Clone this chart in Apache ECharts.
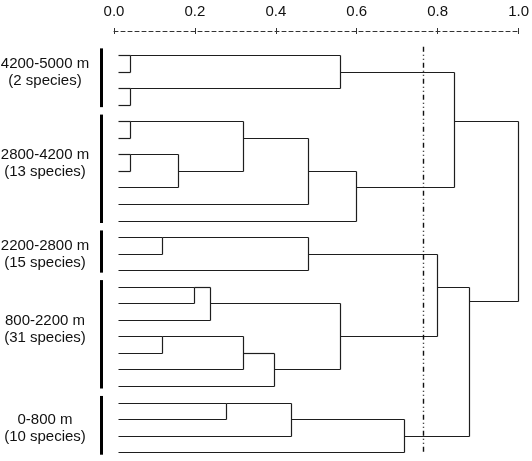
<!DOCTYPE html>
<html>
<head>
<meta charset="utf-8">
<script src="https://cdn.jsdelivr.net/npm/echarts@6/dist/echarts.min.js"></script>
<style>
html,body{margin:0;padding:0;background:#fff;}
#chart{width:532px;height:461px;}
</style>
</head>
<body>
<div id="chart"></div>
<script>
// ---- data ----
const xTicks = [0.0, 0.2, 0.4, 0.6, 0.8, 1.0];
const leafCount = 25;          // leaves, listed top to bottom (rows 0..24)
const leafStart = 0.01;        // rescaled distance where leaves begin
const cutOff = 0.763;          // dash-dot threshold line

// merges: [id, childA, childB, rescaled distance, row where the joined cluster continues]
const mergesGroup1 = [
  ['a1', 'L0', 'L1', 0.040, 0],
  ['a2', 'L2', 'L3', 0.040, 2],
  ['a3', 'a1', 'a2', 0.558, 1]
];
const mergesGroup2 = [
  ['b1', 'L4', 'L5', 0.040, 4],
  ['b2', 'L6', 'L7', 0.040, 6],
  ['b3', 'b2', 'L8', 0.158, 7],
  ['b4', 'b1', 'b3', 0.319, 5],
  ['b5', 'b4', 'L9', 0.479, 7],
  ['b6', 'b5', 'L10', 0.598, 8]
];
const mergesGroup3 = [
  ['c1', 'L11', 'L12', 0.118, 11],
  ['c2', 'c1', 'L13', 0.479, 12]
];
const mergesGroup4 = [
  ['d1', 'L14', 'L15', 0.198, 14],
  ['d2', 'd1', 'L16', 0.237, 15],
  ['d3', 'L17', 'L18', 0.118, 17],
  ['d4', 'd3', 'L19', 0.318, 18],
  ['d5', 'd4', 'L20', 0.396, 19],
  ['d6', 'd2', 'd5', 0.558, 17]
];
const mergesGroup5 = [
  ['e1', 'L21', 'L22', 0.277, 21],
  ['e2', 'e1', 'L23', 0.437, 22],
  ['e3', 'e2', 'L24', 0.716, 23]
];
const mergesUpper = [
  ['ab', 'a3', 'b6', 0.840, 4],
  ['cd', 'c2', 'd6', 0.798, 14],
  ['cde', 'cd', 'e3', 0.877, 14.87],
  ['root', 'ab', 'cde', 0.998, null]
];

// altitude groups
const groupNames = ['4200-5000 m', '2800-4200 m', '2200-2800 m', '800-2200 m', '0-800 m'];
const groupSpecies = ['(2 species)', '(13 species)', '(15 species)', '(31 species)', '(10 species)'];
const groupFirstLeaf = [0, 4, 11, 14, 21];
const groupLastLeaf = [3, 10, 13, 20, 24];
const groupLabelRow = [1.06, 6.53, 12.06, 16.6, 22.55];

// ---- build segments from the tree ----
const merges = [].concat(mergesGroup1, mergesGroup2, mergesGroup3, mergesGroup4, mergesGroup5, mergesUpper);
const nodeInfo = {};
for (let i = 0; i < leafCount; i++) nodeInfo['L' + i] = { h: leafStart, row: i };
const segments = [];
merges.forEach(m => {
  const [id, a, b, h, row] = m;
  const A = nodeInfo[a], B = nodeInfo[b];
  segments.push([A.h, A.row, h, A.row]);
  segments.push([B.h, B.row, h, B.row]);
  segments.push([h, Math.min(A.row, B.row), h, Math.max(A.row, B.row)]);
  nodeInfo[id] = { h: h, row: row };
});

const groupData = groupNames.map((n, i) => [groupLabelRow[i], groupFirstLeaf[i], groupLastLeaf[i], i]);

const chart = echarts.init(document.getElementById('chart'), null, { renderer: 'canvas' });
const lineColor = '#1e1e1e';
const fontFamily = '"Liberation Sans", Arial, Helvetica, sans-serif';

const axisCommon = {
  type: 'value', min: xTicks[0], max: xTicks[xTicks.length - 1], interval: 0.2, position: 'top',
  splitLine: { show: false }
};

chart.setOption({
  animation: false,
  grid: { left: 114, width: 405, top: 31, height: 429.5, containLabel: false },
  xAxis: [
    Object.assign({}, axisCommon, {
      axisLine: { show: true, onZero: false, lineStyle: { color: '#333', width: 1, type: [4, 3] } },
      axisTick: { show: true, length: 3, inside: false, lineStyle: { color: '#333', width: 1 } },
      axisLabel: { show: true, margin: 12, color: '#111', fontSize: 15, fontFamily: fontFamily,
        formatter: v => v.toFixed(1) }
    }),
    Object.assign({}, axisCommon, {
      axisLine: { show: false, onZero: false },
      axisTick: { show: true, length: 3, inside: true, lineStyle: { color: '#333', width: 1 } },
      axisLabel: { show: false }
    })
  ],
  yAxis: { type: 'value', min: -1.45, max: 24.5, inverse: true, show: false },
  series: [
    {
      type: 'custom', xAxisIndex: 0, silent: true,
      encode: { x: [0, 2], y: [1, 3] },
      data: segments,
      renderItem: function (params, api) {
        const p1 = api.coord([api.value(0), api.value(1)]);
        const p2 = api.coord([api.value(2), api.value(3)]);
        const r = v => Math.round(v) + 0.5;
        return {
          type: 'line',
          shape: { x1: r(p1[0]), y1: r(p1[1]), x2: r(p2[0]), y2: r(p2[1]) },
          style: { stroke: lineColor, lineWidth: 1.2 }
        };
      }
    },
    {
      type: 'custom', xAxisIndex: 0, silent: true,
      encode: { x: [0, 2], y: [1, 3] },
      data: [[cutOff, -0.5, cutOff, 24.05]],
      renderItem: function (params, api) {
        const p1 = api.coord([api.value(0), api.value(1)]);
        const p2 = api.coord([api.value(2), api.value(3)]);
        return {
          type: 'line',
          shape: { x1: Math.round(p1[0]) + 0.5, y1: p1[1], x2: Math.round(p2[0]) + 0.5, y2: p2[1] },
          style: { stroke: '#111', lineWidth: 1.4, lineDash: [5, 3, 1, 3, 1, 3] }
        };
      }
    },
    {
      type: 'custom', xAxisIndex: 0, silent: true,
      encode: { y: [0, 1, 2] },
      data: groupData,
      renderItem: function (params, api) {
        const i = api.value(3);
        const pl = api.coord([0, api.value(0)]);
        const pt = api.coord([0, api.value(1) - 0.4]);
        const pb = api.coord([0, api.value(2) + 0.15]);
        return {
          type: 'group',
          children: [
            { type: 'rect', shape: { x: 100, y: pt[1], width: 3, height: pb[1] - pt[1] },
              style: { fill: '#000' } },
            { type: 'text', x: 45, y: pl[1],
              style: { text: groupNames[i] + '\n' + groupSpecies[i], fill: '#111',
                font: '15px ' + fontFamily, align: 'center', verticalAlign: 'middle', lineHeight: 17 } }
          ]
        };
      }
    }
  ]
});
</script>
</body>
</html>
